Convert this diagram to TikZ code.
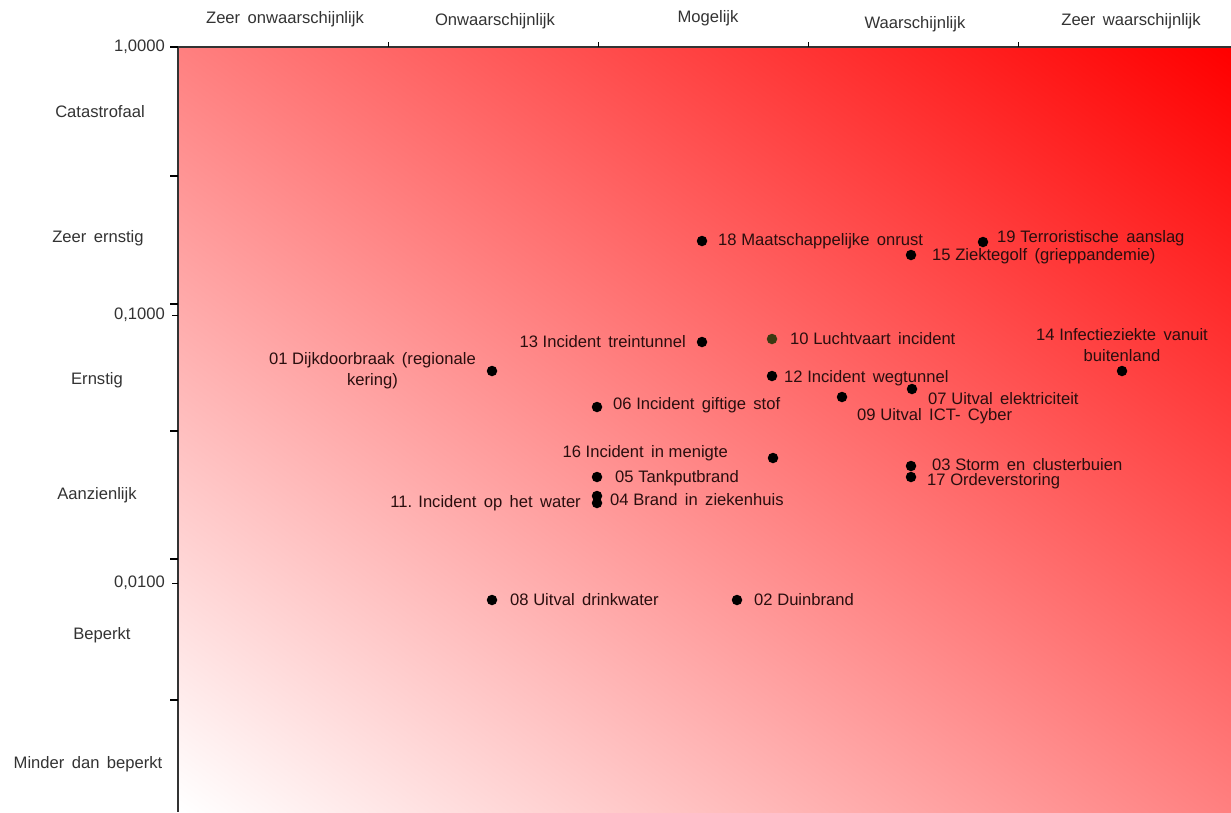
\documentclass[tikz,border=0pt]{standalone}
\usepackage{fontspec}
\setmainfont{Liberation Sans}
\definecolor{labelcol}{HTML}{2A0E0E}
\definecolor{axcol}{HTML}{333333}
\definecolor{olivedot}{HTML}{3B3A12}
\pgfdeclareverticalshading{riskshade}{100bp}{color(0bp)=(white); color(14.64bp)=(white); color(85.36bp)=(red); color(100bp)=(red)}
\begin{document}
\begin{tikzpicture}[x=1pt,y=-1pt,
  dot/.style={circle,fill=black,inner sep=0pt,minimum size=10.5pt},
  lbl/.style={font=\fontsize{16.6}{21}\selectfont, text=labelcol, inner sep=0pt},
  axlbl/.style={font=\fontsize{16.6}{21}\selectfont, text=axcol, inner sep=0pt},
  bigtick/.style={line width=2.4pt, black},
  smalltick/.style={line width=0.8pt, black},
  axisline/.style={line width=1.4pt, axcol}]
\useasboundingbox (0,0) rectangle (1231,812);
\fill[white] (0,0) rectangle (1231,812);
% background gradient (corner to corner)
\begin{scope}[transform canvas={shift={(178,812)}, xscale=2.106, yscale=1.53}]
  \shade[shading=riskshade, shading angle=-45] (0,0) rectangle (500,-500);
\end{scope}
% axes
\coordinate (o) at (178,47);
\coordinate (xe) at (1231,47);
\coordinate (ye) at (178,812);
\draw[axisline] (o) -- (xe);
\draw[axisline] (o) -- (ye);
% top ticks
\foreach \x in {388,598,808,1018} \draw[smalltick] (\x,47) -- (\x,42);
% left category ticks
\foreach \y in {47,176,304,431,559,700} \draw[bigtick] (170,\y) -- (178,\y);
% left value ticks
\foreach \y in {315,583} \draw[smalltick] (172,\y) -- (178,\y);
% top category labels
\node[axlbl] (c1) at (285,19) {Zeer\, onwaarschijnlijk};
\node[axlbl] (c2) at (495,21) {Onwaarschijnlijk};
\node[axlbl] (c3) at (708,18) {Mogelijk};
\node[axlbl] (c4) at (915,24) {Waarschijnlijk};
\node[axlbl] (c5) at (1131,21) {Zeer\, waarschijnlijk};
% left labels
\node[axlbl,anchor=east] (v1) at (165,47) {1,0000};
\node[axlbl,anchor=east] (v2) at (165,315) {0,1000};
\node[axlbl,anchor=east] (v3) at (165,583) {0,0100};
\node[axlbl] (s1) at (100,112) {Catastrofaal};
\node[axlbl] (s2) at (98,238) {Zeer\, ernstig};
\node[axlbl] (s3) at (97,380) {Ernstig};
\node[axlbl] (s4) at (97,495) {Aanzienlijk};
\node[axlbl] (s5) at (102,635) {Beperkt};
\node[axlbl] (s6) at (88,764) {Minder\, dan\, beperkt};
% points
\node[dot] (p18) at (702,241) {};
\node[dot] (p19) at (983,242) {};
\node[dot] (p15) at (911,255) {};
\node[dot] (p13) at (702,342) {};
\node[dot,fill=olivedot] (p10) at (772,339) {};
\node[dot] (p14) at (1122,371) {};
\node[dot] (p01) at (492,371) {};
\node[dot] (p12) at (772,376) {};
\node[dot] (p07) at (912,389) {};
\node[dot] (p09) at (842,397) {};
\node[dot] (p06) at (597,407) {};
\node[dot] (p16) at (773,458) {};
\node[dot] (p05) at (597,477) {};
\node[dot] (p04) at (597,496) {};
\node[dot] (p11) at (597,503) {};
\node[dot] (p03) at (911,466) {};
\node[dot] (p17) at (911,477) {};
\node[dot] (p08) at (492,600) {};
\node[dot] (p02) at (737,600) {};
% point labels
\node[lbl,anchor=west] (l18) at (718,241) {18 Maatschappelijke\, onrust};
\node[lbl,anchor=west] (l19) at (997,238) {19 Terroristische\, aanslag};
\node[lbl,anchor=west] (l15) at (932,256) {15 Ziektegolf\, (grieppandemie)};
\node[lbl,anchor=east] (l13) at (686,342) {13 Incident\, treintunnel};
\node[lbl,anchor=west] (l10) at (790,339) {10 Luchtvaart\, incident};
\node[lbl,align=center] (l14) at (1122,345) {14 Infectieziekte\, vanuit\\buitenland};
\node[lbl,align=center,anchor=east] (l01) at (476,371) {01 Dijkdoorbraak\, (regionale\\kering)};
\node[lbl,anchor=west] (l12) at (784,378) {12 Incident\, wegtunnel};
\node[lbl,anchor=west] (l07) at (928,399) {07 Uitval\, elektriciteit};
\node[lbl,anchor=west] (l09) at (857,416) {09 Uitval\, ICT-\, Cyber};
\node[lbl,anchor=west] (l06) at (613,405) {06 Incident\, giftige\, stof};
\node[lbl,anchor=east] (l16) at (728,453) {16 Incident\, in menigte};
\node[lbl,anchor=west] (l05) at (615,478) {05 Tankputbrand};
\node[lbl,anchor=west] (l04) at (610,500) {04 Brand\, in\, ziekenhuis};
\node[lbl,anchor=east] (l11) at (581,503) {11. Incident\, op\, het\, water};
\node[lbl,anchor=west] (l03) at (932,465) {03 Storm\, en\, clusterbuien};
\node[lbl,anchor=west] (l17) at (927,481) {17 Ordeverstoring};
\node[lbl,anchor=west] (l08) at (510,600) {08 Uitval\, drinkwater};
\node[lbl,anchor=west] (l02) at (754,600) {02 Duinbrand};
\end{tikzpicture}
\end{document}
